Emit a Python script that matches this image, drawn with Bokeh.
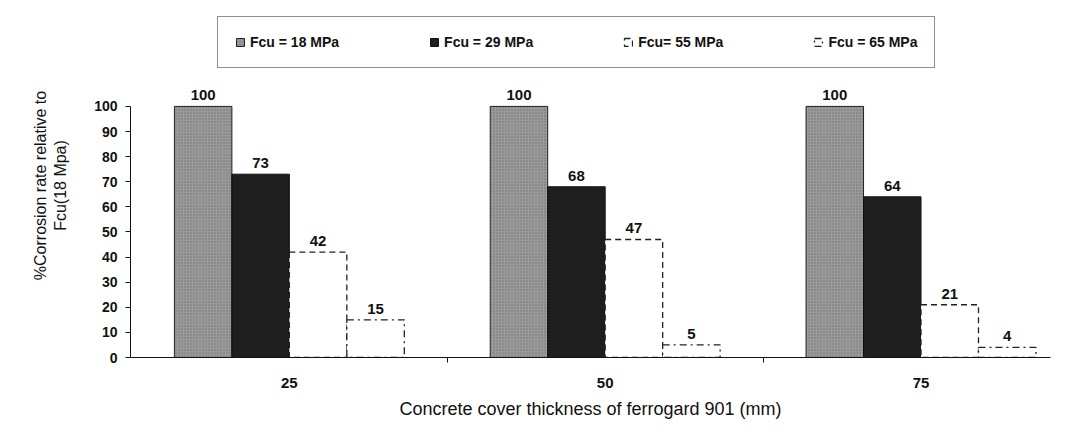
from bokeh.plotting import figure
from bokeh.models import ColumnDataSource, FixedTicker, Legend, LegendItem, Range1d
from bokeh.embed import file_html
from bokeh.resources import INLINE
from bokeh.core.properties import value

categories = ["25", "50", "75"]
series = ["Fcu = 18 MPa", "Fcu = 29 MPa", "Fcu= 55 MPa", "Fcu = 65 MPa"]
fcu18 = [100, 100, 100]
fcu29 = [73, 68, 64]
fcu55 = [42, 47, 21]
fcu65 = [15, 5, 4]
y_ticks = [0, 10, 20, 30, 40, 50, 60, 70, 80, 90, 100]

FONT = "Liberation Sans"
p = figure(width=1052, height=431, output_backend="svg", toolbar_location=None,
           x_range=Range1d(-0.503, 2.41), y_range=Range1d(0, 137),
           min_border_left=130, min_border_right=2, min_border_top=13, min_border_bottom=74)
p.grid.visible = False
p.outline_line_color = None
p.background_fill_color = "white"
p.border_fill_color = "white"

w = 0.182
offsets = [-1.5 * w, -0.5 * w, 0.5 * w, 1.5 * w]
vals = [fcu18, fcu29, fcu55, fcu65]
styles = [
    dict(fill_color="#9a9a9a", line_color="#222222", line_width=1, line_dash="solid",
         hatch_pattern="dot", hatch_color="#555555", hatch_scale=3, hatch_alpha=0.6),
    dict(fill_color="#1e1e1e", line_color="#111111", line_width=1, line_dash="solid"),
    dict(fill_color="white", line_color="#222222", line_width=1.3, line_dash="6 4"),
    dict(fill_color="white", line_color="#222222", line_width=1.3, line_dash="7 4 2 4"),
]
renderers = []
for i, (v, st) in enumerate(zip(vals, styles)):
    xs = [g + offsets[i] for g in range(len(categories))]
    src = ColumnDataSource(dict(x=xs, top=v, lab=[str(t) for t in v]))
    r = p.vbar(x="x", top="top", width=w, bottom=0, source=src, **st)
    renderers.append(r)
    p.text(x="x", y="top", text="lab", source=src, text_align="center", text_baseline="bottom",
           y_offset=-6, text_font=value(FONT), text_font_size="15px", text_font_style="bold",
           text_color="#111111")

# axes
xa = p.xaxis[0]
xa.ticker = FixedTicker(ticks=[0, 1, 2], minor_ticks=[0.5, 1.5])
xa.major_label_overrides = {i: c for i, c in enumerate(categories)}
xa.major_tick_line_color = None
xa.minor_tick_out = 5
xa.minor_tick_in = 0
xa.minor_tick_line_color = "#111111"
xa.axis_line_color = "#111111"
xa.major_label_standoff = 14
xa.major_label_text_font = FONT
xa.major_label_text_font_size = "15px"
xa.major_label_text_font_style = "bold"
xa.major_label_text_color = "#111111"
xa.axis_label = "Concrete cover thickness of ferrogard 901 (mm)"
xa.axis_label_text_font = FONT
xa.axis_label_text_font_size = "18px"
xa.axis_label_text_font_style = "normal"
xa.axis_label_text_color = "#111111"
xa.axis_label_standoff = 8

ya = p.yaxis[0]
ya.ticker = FixedTicker(ticks=y_ticks, minor_ticks=[])
ya.bounds = (0, 100)
ya.major_tick_out = 5
ya.major_tick_in = 0
ya.major_tick_line_color = "#111111"
ya.axis_line_color = "#111111"
ya.major_label_standoff = 8
ya.major_label_text_font = FONT
ya.major_label_text_font_size = "14px"
ya.major_label_text_font_style = "bold"
ya.major_label_text_color = "#111111"
ya.axis_label = "%Corrosion rate relative to\nFcu(18 Mpa)"
ya.axis_label_text_font = FONT
ya.axis_label_text_font_size = "16px"
ya.axis_label_text_font_style = "normal"
ya.axis_label_text_color = "#111111"
ya.axis_label_standoff = 22

legend = Legend(items=[LegendItem(label=s, renderers=[r]) for s, r in zip(series, renderers)],
                orientation="horizontal", location=(87, 289))
legend.label_text_font = FONT
legend.label_text_font_size = "14px"
legend.label_text_font_style = "bold"
legend.label_text_color = "#111111"
legend.glyph_width = 10
legend.glyph_height = 10
legend.label_standoff = 5
legend.spacing = 90
legend.padding = 17
legend.margin = 0
legend.border_line_color = "#222222"
legend.border_line_width = 1.5
legend.background_fill_color = "white"
legend.background_fill_alpha = 1
p.add_layout(legend, "center")

open("out.html", "w").write(file_html(p, INLINE))
